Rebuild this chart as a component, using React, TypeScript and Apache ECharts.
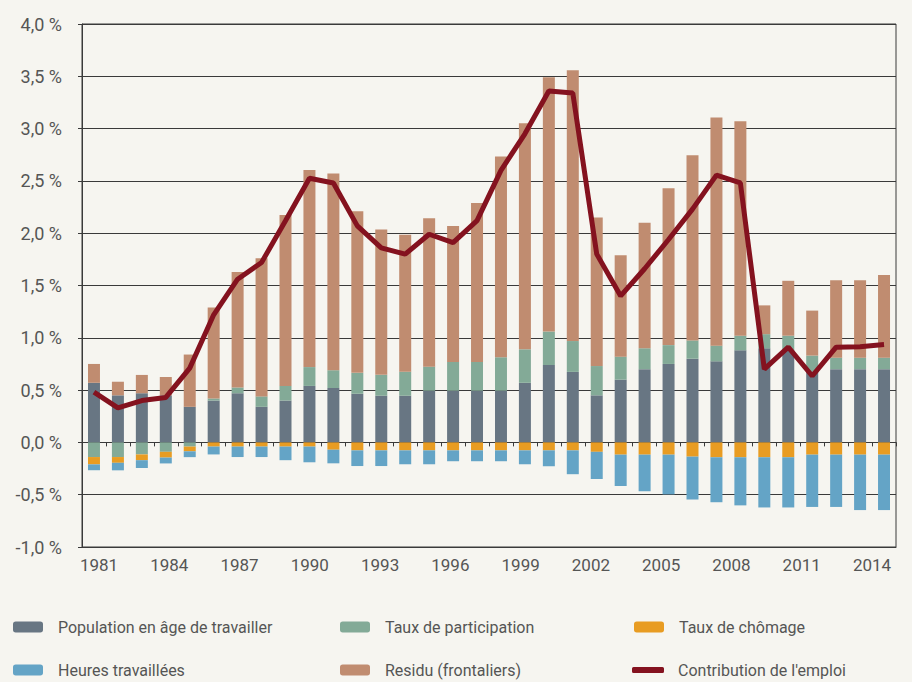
import React, { useEffect, useRef } from "react";
import * as echarts from "echarts";

const years = [
  "1981", "1982", "1983", "1984", "1985", "1986", "1987", "1988", "1989", "1990",
  "1991", "1992", "1993", "1994", "1995", "1996", "1997", "1998", "1999", "2000",
  "2001", "2002", "2003", "2004", "2005", "2006", "2007", "2008", "2009", "2010",
  "2011", "2012", "2013", "2014",
];

const population = [
  0.57, 0.45, 0.47, 0.45, 0.34, 0.40, 0.47, 0.34, 0.40, 0.54,
  0.52, 0.465, 0.446, 0.446, 0.494, 0.494, 0.494, 0.494, 0.57, 0.74,
  0.674, 0.45, 0.60, 0.70, 0.75, 0.80, 0.775, 0.88, 0.90, 0.88,
  0.68, 0.70, 0.70, 0.70,
];

const participation = [
  -0.14, -0.14, -0.115, -0.09, -0.04, 0.02, 0.055, 0.10, 0.14, 0.18,
  0.17, 0.20, 0.20, 0.23, 0.23, 0.275, 0.275, 0.32, 0.32, 0.32,
  0.295, 0.28, 0.22, 0.20, 0.18, 0.175, 0.15, 0.14, 0.135, 0.14,
  0.15, 0.11, 0.11, 0.11,
];

const chomage = [
  -0.07, -0.055, -0.055, -0.055, -0.045, -0.04, -0.04, -0.04, -0.04, -0.04,
  -0.07, -0.076, -0.076, -0.076, -0.076, -0.076, -0.076, -0.076, -0.076, -0.076,
  -0.076, -0.09, -0.117, -0.117, -0.117, -0.136, -0.142, -0.142, -0.142, -0.142,
  -0.117, -0.117, -0.117, -0.117,
];

const heures = [
  -0.056, -0.072, -0.075, -0.056, -0.056, -0.075, -0.10, -0.10, -0.13, -0.15,
  -0.13, -0.15, -0.15, -0.133, -0.133, -0.104, -0.104, -0.104, -0.133, -0.152,
  -0.228, -0.26, -0.30, -0.35, -0.38, -0.41, -0.43, -0.46, -0.48, -0.48,
  -0.50, -0.50, -0.53, -0.53,
];

const residu = [
  0.18, 0.13, 0.175, 0.175, 0.50, 0.87, 1.105, 1.32, 1.635, 1.885,
  1.88, 1.545, 1.39, 1.31, 1.42, 1.30, 1.52, 1.92, 2.16, 2.43,
  2.59, 1.42, 0.97, 1.20, 1.50, 1.77, 2.18, 2.05, 0.275, 0.525,
  0.43, 0.74, 0.74, 0.79,
];

const contribution = [
  0.48, 0.33, 0.40, 0.43, 0.71, 1.22, 1.56, 1.72, 2.12, 2.525,
  2.48, 2.07, 1.86, 1.80, 1.99, 1.91, 2.12, 2.60, 2.95, 3.36,
  3.34, 1.80, 1.40, 1.66, 1.94, 2.23, 2.555, 2.48, 0.70, 0.91,
  0.635, 0.91, 0.915, 0.935,
];

const xLabelYears = [1981, 1984, 1987, 1990, 1993, 1996, 1999, 2002, 2005, 2008, 2011, 2014];

const NAMES = {
  pop: "Population en âge de travailler",
  part: "Taux de participation",
  chom: "Taux de chômage",
  heures: "Heures travaillées",
  residu: "Residu (frontaliers)",
  contrib: "Contribution de l'emploi",
};

const COLORS = {
  pop: "#687683",
  part: "#83aa97",
  chom: "#e89c22",
  heures: "#64a4c6",
  residu: "#c08c70",
  contrib: "#84121f",
};

const FONT = "Roboto, 'Noto Sans', sans-serif";
const TEXT_COLOR = "#555555";
const LINE_COLOR = "#3a3a3a";

export default function App() {
  const ref = useRef<HTMLDivElement>(null);

  useEffect(() => {
    document.body.style.margin = "0";
    const chart = echarts.init(ref.current as HTMLDivElement, null, { renderer: "svg" });

    const legendBase = {
      selectedMode: false,
      itemWidth: 30,
      itemHeight: 11,
      padding: 0,
      textStyle: {
        color: TEXT_COLOR,
        fontSize: 16,
        fontFamily: FONT,
        padding: [0, 0, 0, 10],
      },
    };

    const bar = (name: string, data: number[], color: string) => ({
      name,
      type: "bar",
      stack: "total",
      data,
      barWidth: 12,
      itemStyle: { color },
      xAxisIndex: 0,
      yAxisIndex: 0,
    });

    chart.setOption({
      animation: false,
      backgroundColor: "#f6f5f0",
      grid: {
        left: 82,
        right: 16,
        top: 24,
        bottom: 135,
        show: true,
        borderColor: LINE_COLOR,
        borderWidth: 1,
        backgroundColor: "transparent",
      },
      legend: [
        { ...legendBase, data: [NAMES.pop], left: 13, top: 619 },
        { ...legendBase, data: [NAMES.part], left: 340, top: 619 },
        { ...legendBase, data: [NAMES.chom], left: 634, top: 619 },
        { ...legendBase, data: [NAMES.heures], left: 13, top: 662 },
        { ...legendBase, data: [NAMES.residu], left: 340, top: 662 },
        {
          ...legendBase,
          data: [{ name: NAMES.contrib, icon: "roundRect" }],
          left: 632,
          top: 662,
          itemWidth: 32,
          itemHeight: 6,
          textStyle: { ...legendBase.textStyle, padding: [0, 0, 0, 9] },
        },
      ],
      xAxis: [
        {
          type: "category",
          data: years,
          position: "bottom",
          axisLine: { show: true, onZero: true, lineStyle: { color: LINE_COLOR, width: 1 } },
          axisTick: { show: true, interval: 0, length: 4, lineStyle: { color: LINE_COLOR } },
          axisLabel: { show: false },
          splitLine: { show: false },
        },
        {
          type: "value",
          position: "bottom",
          min: 1980.274,
          max: 2015.025,
          axisLine: { show: true, onZero: false, lineStyle: { color: LINE_COLOR, width: 1 } },
          axisTick: { show: false },
          splitLine: { show: false },
          axisLabel: {
            show: true,
            customValues: xLabelYears,
            formatter: (v: number) => String(Math.round(v)),
            color: TEXT_COLOR,
            fontSize: 17,
            fontFamily: FONT,
            margin: 9,
          },
        },
      ],
      yAxis: [
        {
          type: "value",
          min: -1,
          max: 4,
          interval: 0.5,
          axisLine: { show: true, lineStyle: { color: LINE_COLOR, width: 1 } },
          axisTick: { show: true, length: 4, lineStyle: { color: LINE_COLOR } },
          splitLine: { show: true, lineStyle: { color: LINE_COLOR, width: 1 } },
          axisLabel: {
            color: TEXT_COLOR,
            fontSize: 18,
            fontFamily: FONT,
            margin: 20,
            formatter: (v: number) => v.toFixed(1).replace(".", ",") + " %",
          },
        },
      ],
      series: [
        bar(NAMES.pop, population, COLORS.pop),
        bar(NAMES.part, participation, COLORS.part),
        bar(NAMES.chom, chomage, COLORS.chom),
        bar(NAMES.heures, heures, COLORS.heures),
        bar(NAMES.residu, residu, COLORS.residu),
        {
          name: NAMES.contrib,
          type: "line",
          data: contribution,
          xAxisIndex: 0,
          yAxisIndex: 0,
          showSymbol: false,
          symbol: "none",
          lineStyle: { color: COLORS.contrib, width: 5 },
          itemStyle: { color: COLORS.contrib },
          z: 10,
        },
      ],
    });

    return () => chart.dispose();
  }, []);

  return (
    <div
      ref={ref}
      style={{ position: "fixed", left: 0, top: 0, width: 912, height: 682 }}
    />
  );
}
